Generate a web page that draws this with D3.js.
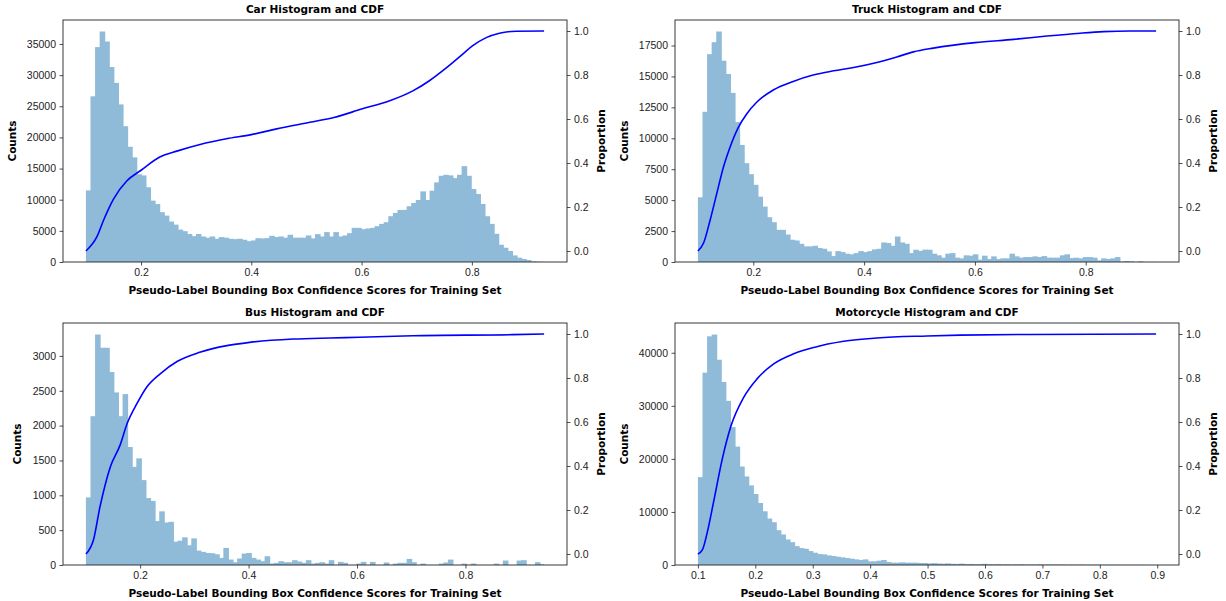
<!DOCTYPE html>
<meta charset="utf-8">
<style>
body { margin: 0; background: #fff; }
svg { font-family: "DejaVu Sans", sans-serif; }
.tick text { font-size: 10.5px; fill: #222; }
.tick line { stroke: #222; stroke-width: 0.8px; }
.domain { display: none; }
.title, .label { font-weight: bold; font-size: 10.5px; fill: #000; }
.cdf { fill: none; stroke: #0000ff; stroke-width: 1.6px; }
</style>
<body>
<script src="https://cdn.jsdelivr.net/npm/d3@7"></script>
<script>

// histogram counts, 100 bins per class
var carCounts = [11500, 26600, 34500, 37000, 35400, 31300, 28750, 25300, 21800, 18500,
  16800, 14100, 13900, 12000, 9850, 9300, 8000, 7450, 6500, 6000,
  5200, 4950, 4500, 4150, 4500, 4100, 3900, 4100, 3730, 4000,
  3900, 3730, 3670, 3730, 3570, 3350, 3460, 3830, 3780, 3830,
  4200, 4000, 4100, 3900, 4370, 3900, 3900, 3900, 4260, 3780,
  4470, 4100, 4800, 4100, 4800, 4100, 4260, 4630, 5480, 5480,
  5270, 5380, 5480, 5750, 6120, 6390, 7350, 7880, 8360, 8360,
  8950, 9480, 9960, 11340, 9960, 11450, 12780, 13840, 14000, 13900,
  13470, 14000, 15390, 13840, 11710, 10920, 9320, 7350, 6120, 4530,
  2770, 2290, 1760, 1060, 690, 480, 320, 110, 50, 20];

var truckCounts = [5230, 12140, 16800, 17770, 18630, 16270, 15200, 13670, 11310, 9460,
  7990, 7100, 6240, 5280, 4480, 3620, 3220, 2600, 2600, 2220,
  1800, 1740, 1470, 1260, 1260, 1310, 1130, 1070, 860, 480,
  880, 800, 670, 620, 720, 880, 800, 880, 1020, 1070,
  1580, 1530, 1310, 2060, 1580, 1470, 720, 990, 900, 1000,
  990, 670, 540, 350, 670, 720, 350, 295, 540, 510,
  620, 190, 510, 240, 455, 240, 295, 295, 670, 455,
  350, 400, 400, 455, 400, 480, 350, 350, 350, 540,
  620, 320, 350, 295, 400, 400, 350, 135, 295, 240,
  295, 400, 30, 80, 55, 0, 55, 10, 0, 10];

var busCounts = [970, 2135, 3307, 3117, 3117, 2770, 2476, 2135, 2452, 1693,
  1408, 1530, 1218, 960, 920, 630, 770, 610, 620, 335,
  349, 397, 283, 382, 207, 188, 173, 169, 154, 102,
  245, 78, 40, 93, 164, 173, 102, 78, 55, 126,
  21, 31, 55, 40, 40, 69, 50, 31, 69, 21,
  31, 40, 20, 69, 0, 45, 31, 0, 0, 20,
  45, 0, 45, 0, 0, 36, 0, 20, 31, 31,
  88, 40, 0, 20, 0, 0, 0, 20, 36, 78,
  0, 0, 20, 0, 20, 0, 0, 0, 0, 20,
  0, 64, 0, 0, 64, 69, 0, 0, 40, 10];

var motoCounts = [16560, 36250, 43100, 43440, 38690, 34500, 30940, 26000, 22310, 18560,
  16690, 15000, 13375, 11690, 10125, 8750, 8060, 6560, 5750, 4810,
  4310, 3560, 3190, 3060, 2625, 2310, 2060, 2000, 1810, 1690,
  1560, 1440, 1310, 1190, 1060, 940, 1060, 690, 690, 810,
  940, 560, 440, 440, 500, 440, 440, 440, 380, 380,
  300, 350, 280, 250, 300, 220, 200, 260, 180, 200,
  150, 170, 230, 140, 120, 160, 110, 120, 90, 100,
  130, 80, 90, 70, 110, 70, 80, 60, 70, 90,
  50, 60, 50, 70, 40, 50, 40, 60, 30, 40,
  30, 40, 30, 20, 30, 20, 20, 10, 10, 10];

// score range covered by the bins
var carRange = [0.1, 0.931];
var truckRange = [0.1, 0.927];
var busRange = [0.1, 0.945];
var motoRange = [0.1, 0.898];

// CDF curves, read at points along each line
var carCdfX = [0.1, 0.12, 0.132, 0.15, 0.174, 0.2, 0.234, 0.265, 0.307, 0.355, 0.4, 0.446, 0.506, 0.55, 0.6, 0.651, 0.693, 0.723, 0.753, 0.783, 0.801, 0.826, 0.85, 0.88, 0.931];
var carCdfY = [0.0, 0.065, 0.14, 0.236, 0.318, 0.367, 0.427, 0.454, 0.484, 0.51, 0.529, 0.555, 0.585, 0.607, 0.645, 0.683, 0.728, 0.774, 0.831, 0.894, 0.932, 0.97, 0.99, 0.999, 1.0];

var truckCdfX = [0.1, 0.11, 0.122, 0.134, 0.146, 0.158, 0.173, 0.188, 0.206, 0.236, 0.272, 0.308, 0.345, 0.381, 0.423, 0.459, 0.489, 0.525, 0.6, 0.67, 0.73, 0.79, 0.832, 0.88, 0.927];
var truckCdfY = [0.0, 0.035, 0.14, 0.261, 0.381, 0.472, 0.562, 0.623, 0.676, 0.732, 0.771, 0.8, 0.819, 0.834, 0.857, 0.882, 0.905, 0.922, 0.947, 0.962, 0.977, 0.99, 0.997, 1.0, 1.0];

var busCdfX = [0.1, 0.114, 0.126, 0.145, 0.163, 0.176, 0.194, 0.212, 0.237, 0.268, 0.31, 0.36, 0.402, 0.482, 0.55, 0.605, 0.703, 0.887, 0.945];
var busCdfY = [0.0, 0.065, 0.215, 0.396, 0.495, 0.593, 0.683, 0.758, 0.819, 0.875, 0.917, 0.947, 0.962, 0.977, 0.982, 0.985, 0.992, 0.997, 1.0];

var motoCdfX = [0.1, 0.108, 0.116, 0.128, 0.142, 0.157, 0.18, 0.203, 0.232, 0.267, 0.302, 0.354, 0.412, 0.499, 0.557, 0.679, 0.898];
var motoCdfY = [0.0, 0.02, 0.095, 0.246, 0.427, 0.577, 0.713, 0.796, 0.864, 0.91, 0.939, 0.967, 0.982, 0.991, 0.995, 0.998, 1.0];

// tick labels
var carYTicks = [0, 5000, 10000, 15000, 20000, 25000, 30000, 35000];
var truckYTicks = [0, 2500, 5000, 7500, 10000, 12500, 15000, 17500];
var busYTicks = [0, 500, 1000, 1500, 2000, 2500, 3000];
var motoYTicks = [0, 10000, 20000, 30000, 40000];
var scoreTicks = [0.2, 0.4, 0.6, 0.8];
var motoScoreTicks = [0.1, 0.2, 0.3, 0.4, 0.5, 0.6, 0.7, 0.8, 0.9];
var propTicks = [0.0, 0.2, 0.4, 0.6, 0.8, 1.0];

var panels = [
  {name: "Car", counts: carCounts, range: carRange, cdfX: carCdfX, cdfY: carCdfY, yTicks: carYTicks, xTicks: scoreTicks, left: 63, top: 20},
  {name: "Truck", counts: truckCounts, range: truckRange, cdfX: truckCdfX, cdfY: truckCdfY, yTicks: truckYTicks, xTicks: scoreTicks, left: 675, top: 20},
  {name: "Bus", counts: busCounts, range: busRange, cdfX: busCdfX, cdfY: busCdfY, yTicks: busYTicks, xTicks: scoreTicks, left: 63, top: 323},
  {name: "Motorcycle", counts: motoCounts, range: motoRange, cdfX: motoCdfX, cdfY: motoCdfY, yTicks: motoYTicks, xTicks: motoScoreTicks, left: 675, top: 323}
];

var W = 504, H = 242;

var svg = d3.select("body").append("svg")
    .attr("width", 1226)
    .attr("height", 601);

panels.forEach(function(p) {
  var lo = p.range[0], hi = p.range[1], pad = (hi - lo) * 0.05;
  var step = (hi - lo) / p.counts.length;

  var x = d3.scaleLinear().domain([lo - pad, hi + pad]).range([0, W]);
  var y = d3.scaleLinear().domain([0, d3.max(p.counts) * 1.05]).range([H, 0]);
  var y2 = d3.scaleLinear().domain([-0.05, 1.05]).range([H, 0]);

  var g = svg.append("g")
      .attr("transform", "translate(" + p.left + "," + p.top + ")");

  // histogram bars (a little overlap so no seams show between them)
  g.append("g").selectAll("rect")
      .data(p.counts)
    .enter().append("rect")
      .attr("x", function(d, i) { return x(lo + i * step); })
      .attr("width", function(d, i) { return x(lo + (i + 1) * step) - x(lo + i * step) + (i < p.counts.length - 1 ? 1 : 0); })
      .attr("y", function(d) { return y(d); })
      .attr("height", function(d) { return H - y(d); })
      .attr("fill", "#8fbbd9");

  // cdf line
  var pts = p.cdfX.map(function(v, i) { return [v, p.cdfY[i]]; });
  g.append("path")
      .datum(pts)
      .attr("class", "cdf")
      .attr("d", d3.line()
          .x(function(d) { return x(d[0]); })
          .y(function(d) { return y2(d[1]); })
          .curve(d3.curveMonotoneX));

  // frame
  g.append("rect")
      .attr("width", W)
      .attr("height", H)
      .attr("fill", "none")
      .attr("stroke", "#222")
      .attr("stroke-width", 0.9);

  // axes
  var yAxis = g.append("g")
      .call(d3.axisLeft(y).tickValues(p.yTicks).tickSize(3.5).tickPadding(3.5).tickFormat(d3.format("d")));

  g.append("g")
      .attr("transform", "translate(" + W + ",0)")
      .call(d3.axisRight(y2).tickValues(propTicks).tickSize(3.5).tickPadding(3.5).tickFormat(d3.format(".1f")));

  g.append("g")
      .attr("transform", "translate(0," + H + ")")
      .call(d3.axisBottom(x).tickValues(p.xTicks).tickSize(3.5).tickPadding(3.5).tickFormat(d3.format(".1f")));

  // ylabel sits just outside the widest tick label
  var labW = d3.max(yAxis.selectAll("text").nodes(), function(n) { return n.getBBox().width; });

  g.append("text")
      .attr("class", "label")
      .attr("transform", "translate(" + (-labW - 18) + "," + (H / 2) + ") rotate(-90)")
      .attr("text-anchor", "middle")
      .text("Counts");

  g.append("text")
      .attr("class", "label")
      .attr("transform", "translate(" + (W + 38) + "," + (H / 2) + ") rotate(-90)")
      .attr("text-anchor", "middle")
      .text("Proportion");

  g.append("text")
      .attr("class", "label")
      .attr("x", W / 2)
      .attr("y", H + 32)
      .attr("text-anchor", "middle")
      .text("Pseudo-Label Bounding Box Confidence Scores for Training Set");

  g.append("text")
      .attr("class", "title")
      .attr("x", W / 2)
      .attr("y", -7)
      .attr("text-anchor", "middle")
      .text(p.name + " Histogram and CDF");
});

</script>
</body>
